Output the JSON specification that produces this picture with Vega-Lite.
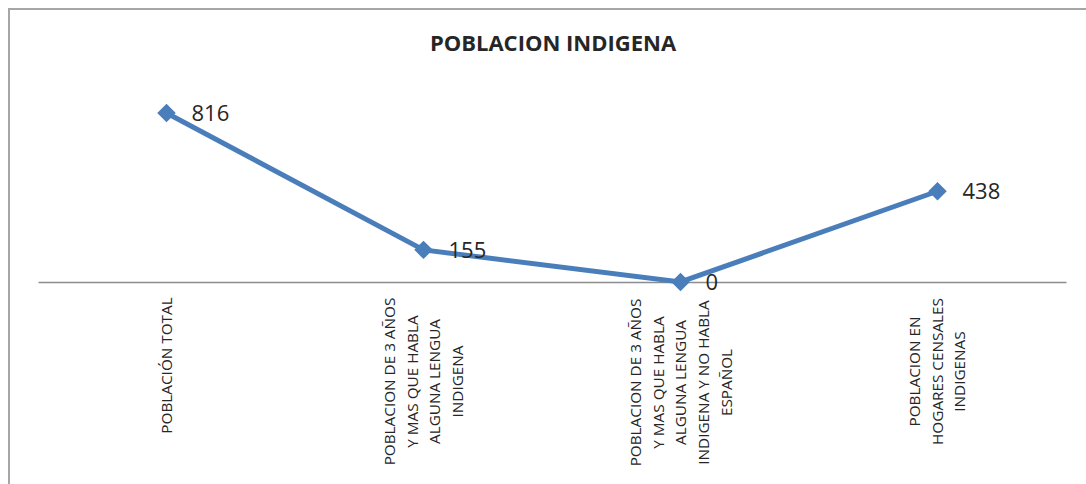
{
  "$schema": "https://vega.github.io/schema/vega-lite/v6.json",
  "width": 1110,
  "height": 495,
  "autosize": {"type": "none"},
  "padding": {"left": 9, "top": 9, "right": 0, "bottom": 0},
  "background": "white",
  "config": {"view": {"stroke": "#a6a6a6", "strokeWidth": 2}},
  "title": {"text": "POBLACION INDIGENA", "font": "Open Sans", "fontSize": 22, "fontWeight": "bold", "color": "#262626", "offset": -47, "anchor": "middle", "dx": -11},
  "data": {"values": [
    {"categoria": "POBLACIÓN TOTAL", "poblacion": 816},
    {"categoria": "POBLACION DE 3 AÑOS\nY MAS QUE HABLA\nALGUNA LENGUA\nINDIGENA", "poblacion": 155},
    {"categoria": "POBLACION DE 3 AÑOS\nY MAS QUE HABLA\nALGUNA LENGUA\nINDIGENA Y NO HABLA\nESPAÑOL", "poblacion": 0},
    {"categoria": "POBLACION EN\nHOGARES CENSALES\nINDIGENAS", "poblacion": 438}
  ]},
  "encoding": {
    "x": {
      "field": "categoria", "type": "nominal", "sort": null,
      "scale": {"range": [29, 1057]},
      "axis": {
        "title": null, "labelAngle": -90, "labelAlign": "center", "labelBaseline": "middle",
        "labelExpr": "split(datum.label, '\\n')",
        "labelFont": "Open Sans", "labelFontSize": 15.3, "labelColor": "#262626", "labelLineHeight": 22.7,
        "ticks": false, "domainColor": "#8c8c8c", "domainWidth": 1.5, "offset": -222,
        "labelPadding": {"condition": [
          {"test": "indexof(datum.value, 'TOTAL') >= 0", "value": 83},
          {"test": "indexof(datum.value, 'HOGARES') >= 0", "value": 89},
          {"test": "indexof(datum.value, 'ESPAÑOL') >= 0", "value": 100}
        ], "value": 99},
        "labelOffset": {"condition": [
          {"test": "indexof(datum.value, 'TOTAL') >= 0", "value": 0},
          {"test": "indexof(datum.value, 'HOGARES') >= 0", "value": -23},
          {"test": "indexof(datum.value, 'ESPAÑOL') >= 0", "value": -45}
        ], "value": -34}
      }
    },
    "y": {"field": "poblacion", "type": "quantitative", "scale": {"domain": [-1072, 1318], "nice": false, "zero": false}, "axis": null}
  },
  "layer": [
    {"mark": {"type": "line", "color": "#4a7ebb", "strokeWidth": 5}},
    {"mark": {"type": "point", "shape": "diamond", "filled": true, "size": 340, "color": "#4a7ebb", "opacity": 1}},
    {"mark": {"type": "text", "align": "left", "baseline": "middle", "dx": 25, "dy": 1, "font": "Open Sans", "fontSize": 22, "color": "#262626"}, "encoding": {"text": {"field": "poblacion", "type": "quantitative"}}}
  ]
}
